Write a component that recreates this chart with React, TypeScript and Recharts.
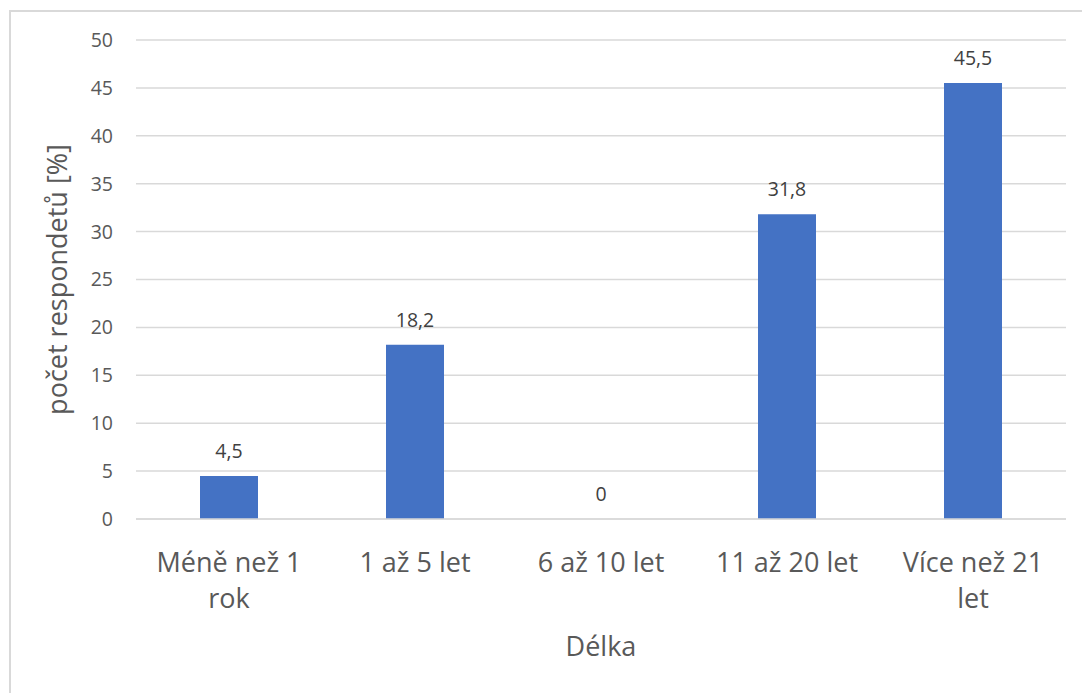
import React from "react";
import {
  ComposedChart,
  Bar,
  Line,
  XAxis,
  YAxis,
  CartesianGrid,
  LabelList,
  Label,
} from "recharts";

const categories = ["Méně než 1\nrok", "1 až 5 let", "6 až 10 let", "11 až 20 let", "Více než 21\nlet"];
const values = [4.5, 18.2, 0, 31.8, 45.5];
const yTicks = [0, 5, 10, 15, 20, 25, 30, 35, 40, 45, 50];

const data = categories.map((name, i) => ({ name, value: values[i] }));

const FONT = "'Open Sans', sans-serif";

const CategoryTick = (props: any) => {
  const { x, y, payload } = props;
  const lines = String(payload.value).split("\n");
  return (
    <text x={x} y={y + 53} textAnchor="middle" fill="#595959" fontSize={27} fontFamily={FONT}>
      {lines.map((line, i) => (
        <tspan key={i} x={x} dy={i === 0 ? 0 : 36}>
          {line}
        </tspan>
      ))}
    </text>
  );
};

const YTitle = (props: any) => {
  const { viewBox } = props;
  const cy = viewBox.y + viewBox.height / 2;
  const cx = viewBox.x + 11;
  return (
    <text
      x={cx}
      y={cy}
      transform={`rotate(-90, ${cx}, ${cy})`}
      textAnchor="middle"
      fill="#595959"
      fontSize={27}
      fontFamily={FONT}
    >
      počet respondetů [%]
    </text>
  );
};

export default function App() {
  return (
    <div style={{ position: "absolute", left: 0, top: 0, width: 1082, height: 693, overflow: "hidden", background: "#fff" }}>
      <div
        style={{
          position: "absolute",
          left: 9,
          top: 10,
          width: 1200,
          height: 800,
          borderLeft: "2px solid #d9d9d9",
          borderTop: "2px solid #d9d9d9",
        }}
      />
      <div style={{ position: "absolute", left: 0, top: 0 }}>
        <ComposedChart
          width={1082}
          height={693}
          data={data}
          margin={{ top: 40, right: 16, bottom: 34, left: 56 }}
          style={{ fontFamily: FONT }}
        >
          <CartesianGrid vertical={false} stroke="#d9d9d9" strokeWidth={1.5} />
          <XAxis
            dataKey="name"
            height={140}
            tickLine={false}
            tickSize={0}
            tickMargin={0}
            axisLine={{ stroke: "#d9d9d9", strokeWidth: 1.5 }}
            tick={<CategoryTick />}
            interval={0}
          >
            <Label value="Délka" position="insideBottom" offset={3} fill="#595959" fontSize={27} fontFamily={FONT} />
          </XAxis>
          <YAxis
            width={80}
            domain={[0, 50]}
            ticks={yTicks}
            axisLine={false}
            tickLine={false}
            tickSize={0}
            tickMargin={23}
            tick={{ fill: "#595959", fontSize: 19.5, fontFamily: FONT }}
          >
            <Label content={<YTitle />} />
          </YAxis>
          <Bar dataKey="value" fill="#4472C4" barSize={58} isAnimationActive={false} />
          <Line
            dataKey="value"
            stroke="none"
            dot={false}
            activeDot={false}
            legendType="none"
            isAnimationActive={false}
          >
            <LabelList
              dataKey="value"
              position="top"
              offset={18}
              fill="#404040"
              fontSize={19.5}
              fontFamily={FONT}
              formatter={(v: any) => String(v).replace(".", ",")}
            />
          </Line>
        </ComposedChart>
      </div>
    </div>
  );
}
